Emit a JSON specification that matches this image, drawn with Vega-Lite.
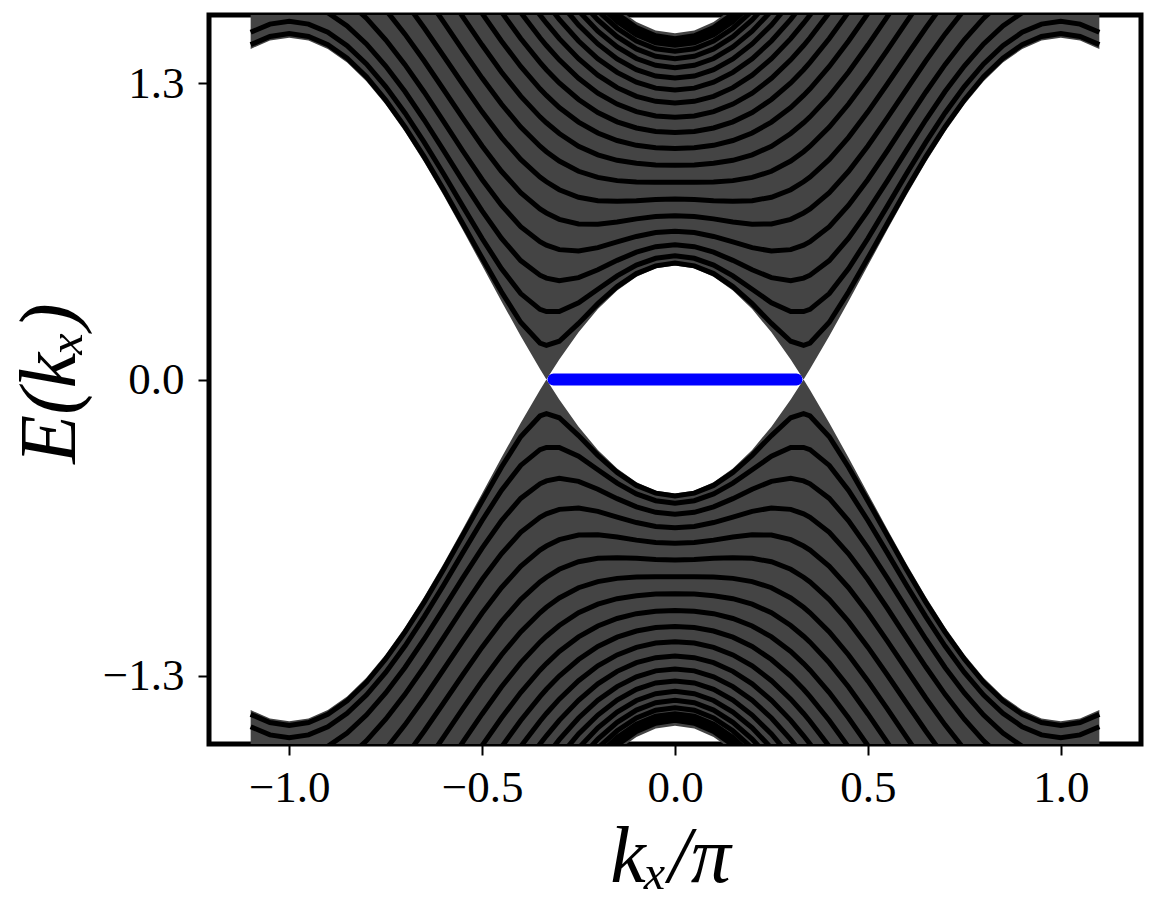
{
  "$schema": "https://vega.github.io/schema/vega-lite/v6.json",
  "width": 932,
  "height": 729,
  "autosize": {"type": "none"},
  "padding": {"left": 209, "top": 15, "right": 22, "bottom": 160},
  "background": "white",
  "config": {
    "view": {"stroke": "black", "strokeWidth": 5},
    "axis": {
      "domain": false, "grid": false, "ticks": true,
      "tickColor": "black", "tickWidth": 2, "tickSize": 11,
      "labelFont": "Liberation Serif", "labelFontSize": 45, "labelColor": "black",
      "titleFont": "Liberation Serif", "titleFontSize": 80, "titleFontStyle": "italic",
      "titleFontWeight": "normal", "titleColor": "black"
    }
  },
  "datasets": {
    "env": [
      {"k":-1.1,"s":"u","lo":1.451,"hi":3.451},{"k":-1.05,"s":"u","lo":1.488,"hi":3.488},{"k":-1.0,"s":"u","lo":1.5,"hi":3.5},{"k":-0.95,"s":"u","lo":1.488,"hi":3.488},{"k":-0.9,"s":"u","lo":1.451,"hi":3.451},{"k":-0.85,"s":"u","lo":1.391,"hi":3.391},{"k":-0.8,"s":"u","lo":1.309,"hi":3.309},{"k":-0.75,"s":"u","lo":1.207,"hi":3.207},{"k":-0.7,"s":"u","lo":1.088,"hi":3.088},{"k":-0.65,"s":"u","lo":0.954,"hi":2.954},{"k":-0.6,"s":"u","lo":0.809,"hi":2.809},{"k":-0.55,"s":"u","lo":0.656,"hi":2.656},{"k":-0.5,"s":"u","lo":0.5,"hi":2.5},{"k":-0.45,"s":"u","lo":0.344,"hi":2.344},{"k":-0.4,"s":"u","lo":0.191,"hi":2.191},{"k":-0.35,"s":"u","lo":0.046,"hi":2.046},{"k":-0.3333,"s":"u","lo":0.0,"hi":2.0},{"k":-0.3,"s":"u","lo":0.088,"hi":1.912},{"k":-0.25,"s":"u","lo":0.207,"hi":1.793},{"k":-0.2,"s":"u","lo":0.309,"hi":1.711},{"k":-0.15,"s":"u","lo":0.391,"hi":1.629},{"k":-0.1,"s":"u","lo":0.451,"hi":1.569},{"k":-0.05,"s":"u","lo":0.488,"hi":1.532},{"k":0.0,"s":"u","lo":0.5,"hi":1.52},{"k":0.05,"s":"u","lo":0.488,"hi":1.532},{"k":0.1,"s":"u","lo":0.451,"hi":1.569},{"k":0.15,"s":"u","lo":0.391,"hi":1.629},{"k":0.2,"s":"u","lo":0.309,"hi":1.711},{"k":0.25,"s":"u","lo":0.207,"hi":1.793},{"k":0.3,"s":"u","lo":0.088,"hi":1.912},{"k":0.3333,"s":"u","lo":0.0,"hi":2.0},{"k":0.35,"s":"u","lo":0.046,"hi":2.046},{"k":0.4,"s":"u","lo":0.191,"hi":2.191},{"k":0.45,"s":"u","lo":0.344,"hi":2.344},{"k":0.5,"s":"u","lo":0.5,"hi":2.5},{"k":0.55,"s":"u","lo":0.656,"hi":2.656},{"k":0.6,"s":"u","lo":0.809,"hi":2.809},{"k":0.65,"s":"u","lo":0.954,"hi":2.954},{"k":0.7,"s":"u","lo":1.088,"hi":3.088},{"k":0.75,"s":"u","lo":1.207,"hi":3.207},{"k":0.8,"s":"u","lo":1.309,"hi":3.309},{"k":0.85,"s":"u","lo":1.391,"hi":3.391},{"k":0.9,"s":"u","lo":1.451,"hi":3.451},{"k":0.95,"s":"u","lo":1.488,"hi":3.488},{"k":1.0,"s":"u","lo":1.5,"hi":3.5},{"k":1.05,"s":"u","lo":1.488,"hi":3.488},{"k":1.1,"s":"u","lo":1.451,"hi":3.451},
      {"k":-1.1,"s":"d","lo":-3.451,"hi":-1.451},{"k":-1.05,"s":"d","lo":-3.488,"hi":-1.488},{"k":-1.0,"s":"d","lo":-3.5,"hi":-1.5},{"k":-0.95,"s":"d","lo":-3.488,"hi":-1.488},{"k":-0.9,"s":"d","lo":-3.451,"hi":-1.451},{"k":-0.85,"s":"d","lo":-3.391,"hi":-1.391},{"k":-0.8,"s":"d","lo":-3.309,"hi":-1.309},{"k":-0.75,"s":"d","lo":-3.207,"hi":-1.207},{"k":-0.7,"s":"d","lo":-3.088,"hi":-1.088},{"k":-0.65,"s":"d","lo":-2.954,"hi":-0.954},{"k":-0.6,"s":"d","lo":-2.809,"hi":-0.809},{"k":-0.55,"s":"d","lo":-2.656,"hi":-0.656},{"k":-0.5,"s":"d","lo":-2.5,"hi":-0.5},{"k":-0.45,"s":"d","lo":-2.344,"hi":-0.344},{"k":-0.4,"s":"d","lo":-2.191,"hi":-0.191},{"k":-0.35,"s":"d","lo":-2.046,"hi":-0.046},{"k":-0.3333,"s":"d","lo":-2.0,"hi":0.0},{"k":-0.3,"s":"d","lo":-1.912,"hi":-0.088},{"k":-0.25,"s":"d","lo":-1.793,"hi":-0.207},{"k":-0.2,"s":"d","lo":-1.711,"hi":-0.309},{"k":-0.15,"s":"d","lo":-1.629,"hi":-0.391},{"k":-0.1,"s":"d","lo":-1.569,"hi":-0.451},{"k":-0.05,"s":"d","lo":-1.532,"hi":-0.488},{"k":0.0,"s":"d","lo":-1.52,"hi":-0.5},{"k":0.05,"s":"d","lo":-1.532,"hi":-0.488},{"k":0.1,"s":"d","lo":-1.569,"hi":-0.451},{"k":0.15,"s":"d","lo":-1.629,"hi":-0.391},{"k":0.2,"s":"d","lo":-1.711,"hi":-0.309},{"k":0.25,"s":"d","lo":-1.793,"hi":-0.207},{"k":0.3,"s":"d","lo":-1.912,"hi":-0.088},{"k":0.3333,"s":"d","lo":-2.0,"hi":0.0},{"k":0.35,"s":"d","lo":-2.046,"hi":-0.046},{"k":0.4,"s":"d","lo":-2.191,"hi":-0.191},{"k":0.45,"s":"d","lo":-2.344,"hi":-0.344},{"k":0.5,"s":"d","lo":-2.5,"hi":-0.5},{"k":0.55,"s":"d","lo":-2.656,"hi":-0.656},{"k":0.6,"s":"d","lo":-2.809,"hi":-0.809},{"k":0.65,"s":"d","lo":-2.954,"hi":-0.954},{"k":0.7,"s":"d","lo":-3.088,"hi":-1.088},{"k":0.75,"s":"d","lo":-3.207,"hi":-1.207},{"k":0.8,"s":"d","lo":-3.309,"hi":-1.309},{"k":0.85,"s":"d","lo":-3.391,"hi":-1.391},{"k":0.9,"s":"d","lo":-3.451,"hi":-1.451},{"k":0.95,"s":"d","lo":-3.488,"hi":-1.488},{"k":1.0,"s":"d","lo":-3.5,"hi":-1.5},{"k":1.05,"s":"d","lo":-3.488,"hi":-1.488},{"k":1.1,"s":"d","lo":-3.451,"hi":-1.451}
    ],
    "bands": [
      {"k":-0.15,"n":1,"u":1.605,"d":-1.605},{"k":-0.1,"n":1,"u":1.545,"d":-1.545},{"k":-0.05,"n":1,"u":1.509,"d":-1.509},{"k":0,"n":1,"u":1.496,"d":-1.496},{"k":0.05,"n":1,"u":1.509,"d":-1.509},{"k":0.1,"n":1,"u":1.545,"d":-1.545},{"k":0.15,"n":1,"u":1.605,"d":-1.605},
      {"k":-0.2,"n":2,"u":1.673,"d":-1.673},{"k":-0.15,"n":2,"u":1.592,"d":-1.592},{"k":-0.1,"n":2,"u":1.533,"d":-1.533},{"k":-0.05,"n":2,"u":1.497,"d":-1.497},{"k":0,"n":2,"u":1.485,"d":-1.485},{"k":0.05,"n":2,"u":1.497,"d":-1.497},{"k":0.1,"n":2,"u":1.533,"d":-1.533},{"k":0.15,"n":2,"u":1.592,"d":-1.592},{"k":0.2,"n":2,"u":1.673,"d":-1.673},
      {"k":-0.2,"n":3,"u":1.65,"d":-1.65},{"k":-0.15,"n":3,"u":1.571,"d":-1.571},{"k":-0.1,"n":3,"u":1.513,"d":-1.513},{"k":-0.05,"n":3,"u":1.478,"d":-1.478},{"k":0,"n":3,"u":1.467,"d":-1.467},{"k":0.05,"n":3,"u":1.478,"d":-1.478},{"k":0.1,"n":3,"u":1.513,"d":-1.513},{"k":0.15,"n":3,"u":1.571,"d":-1.571},{"k":0.2,"n":3,"u":1.65,"d":-1.65},
      {"k":-0.2,"n":4,"u":1.618,"d":-1.618},{"k":-0.15,"n":4,"u":1.542,"d":-1.542},{"k":-0.1,"n":4,"u":1.486,"d":-1.486},{"k":-0.05,"n":4,"u":1.452,"d":-1.452},{"k":0,"n":4,"u":1.441,"d":-1.441},{"k":0.05,"n":4,"u":1.452,"d":-1.452},{"k":0.1,"n":4,"u":1.486,"d":-1.486},{"k":0.15,"n":4,"u":1.542,"d":-1.542},{"k":0.2,"n":4,"u":1.618,"d":-1.618},
      {"k":-0.25,"n":5,"u":1.671,"d":-1.671},{"k":-0.2,"n":5,"u":1.578,"d":-1.578},{"k":-0.15,"n":5,"u":1.505,"d":-1.505},{"k":-0.1,"n":5,"u":1.451,"d":-1.451},{"k":-0.05,"n":5,"u":1.419,"d":-1.419},{"k":0,"n":5,"u":1.408,"d":-1.408},{"k":0.05,"n":5,"u":1.419,"d":-1.419},{"k":0.1,"n":5,"u":1.451,"d":-1.451},{"k":0.15,"n":5,"u":1.505,"d":-1.505},{"k":0.2,"n":5,"u":1.578,"d":-1.578},{"k":0.25,"n":5,"u":1.671,"d":-1.671},
      {"k":-0.25,"n":6,"u":1.618,"d":-1.618},{"k":-0.2,"n":6,"u":1.529,"d":-1.529},{"k":-0.15,"n":6,"u":1.46,"d":-1.46},{"k":-0.1,"n":6,"u":1.409,"d":-1.409},{"k":-0.05,"n":6,"u":1.379,"d":-1.379},{"k":0,"n":6,"u":1.369,"d":-1.369},{"k":0.05,"n":6,"u":1.379,"d":-1.379},{"k":0.1,"n":6,"u":1.409,"d":-1.409},{"k":0.15,"n":6,"u":1.46,"d":-1.46},{"k":0.2,"n":6,"u":1.529,"d":-1.529},{"k":0.25,"n":6,"u":1.618,"d":-1.618},
      {"k":-0.3,"n":7,"u":1.657,"d":-1.657},{"k":-0.25,"n":7,"u":1.556,"d":-1.556},{"k":-0.2,"n":7,"u":1.473,"d":-1.473},{"k":-0.15,"n":7,"u":1.407,"d":-1.407},{"k":-0.1,"n":7,"u":1.36,"d":-1.36},{"k":-0.05,"n":7,"u":1.332,"d":-1.332},{"k":0,"n":7,"u":1.323,"d":-1.323},{"k":0.05,"n":7,"u":1.332,"d":-1.332},{"k":0.1,"n":7,"u":1.36,"d":-1.36},{"k":0.15,"n":7,"u":1.407,"d":-1.407},{"k":0.2,"n":7,"u":1.473,"d":-1.473},{"k":0.25,"n":7,"u":1.556,"d":-1.556},{"k":0.3,"n":7,"u":1.657,"d":-1.657},
      {"k":-0.3333,"n":8,"u":1.653,"d":-1.653},{"k":-0.3,"n":8,"u":1.581,"d":-1.581},{"k":-0.25,"n":8,"u":1.486,"d":-1.486},{"k":-0.2,"n":8,"u":1.408,"d":-1.408},{"k":-0.15,"n":8,"u":1.348,"d":-1.348},{"k":-0.1,"n":8,"u":1.305,"d":-1.305},{"k":-0.05,"n":8,"u":1.279,"d":-1.279},{"k":0,"n":8,"u":1.271,"d":-1.271},{"k":0.05,"n":8,"u":1.279,"d":-1.279},{"k":0.1,"n":8,"u":1.305,"d":-1.305},{"k":0.15,"n":8,"u":1.348,"d":-1.348},{"k":0.2,"n":8,"u":1.408,"d":-1.408},{"k":0.25,"n":8,"u":1.486,"d":-1.486},{"k":0.3,"n":8,"u":1.581,"d":-1.581},{"k":0.3333,"n":8,"u":1.653,"d":-1.653},
      {"k":-0.4,"n":9,"u":1.717,"d":-1.717},{"k":-0.35,"n":9,"u":1.6,"d":-1.6},{"k":-0.3333,"n":9,"u":1.564,"d":-1.564},{"k":-0.3,"n":9,"u":1.496,"d":-1.496},{"k":-0.25,"n":9,"u":1.408,"d":-1.408},{"k":-0.2,"n":9,"u":1.336,"d":-1.336},{"k":-0.15,"n":9,"u":1.281,"d":-1.281},{"k":-0.1,"n":9,"u":1.243,"d":-1.243},{"k":-0.05,"n":9,"u":1.221,"d":-1.221},{"k":0,"n":9,"u":1.214,"d":-1.214},{"k":0.05,"n":9,"u":1.221,"d":-1.221},{"k":0.1,"n":9,"u":1.243,"d":-1.243},{"k":0.15,"n":9,"u":1.281,"d":-1.281},{"k":0.2,"n":9,"u":1.336,"d":-1.336},{"k":0.25,"n":9,"u":1.408,"d":-1.408},{"k":0.3,"n":9,"u":1.496,"d":-1.496},{"k":0.3333,"n":9,"u":1.564,"d":-1.564},{"k":0.35,"n":9,"u":1.6,"d":-1.6},{"k":0.4,"n":9,"u":1.717,"d":-1.717},
      {"k":-0.45,"n":10,"u":1.734,"d":-1.734},{"k":-0.4,"n":10,"u":1.611,"d":-1.611},{"k":-0.35,"n":10,"u":1.5,"d":-1.5},{"k":-0.3333,"n":10,"u":1.466,"d":-1.466},{"k":-0.3,"n":10,"u":1.403,"d":-1.403},{"k":-0.25,"n":10,"u":1.322,"d":-1.322},{"k":-0.2,"n":10,"u":1.257,"d":-1.257},{"k":-0.15,"n":10,"u":1.209,"d":-1.209},{"k":-0.1,"n":10,"u":1.176,"d":-1.176},{"k":-0.05,"n":10,"u":1.157,"d":-1.157},{"k":0,"n":10,"u":1.151,"d":-1.151},{"k":0.05,"n":10,"u":1.157,"d":-1.157},{"k":0.1,"n":10,"u":1.176,"d":-1.176},{"k":0.15,"n":10,"u":1.209,"d":-1.209},{"k":0.2,"n":10,"u":1.257,"d":-1.257},{"k":0.25,"n":10,"u":1.322,"d":-1.322},{"k":0.3,"n":10,"u":1.403,"d":-1.403},{"k":0.3333,"n":10,"u":1.466,"d":-1.466},{"k":0.35,"n":10,"u":1.5,"d":-1.5},{"k":0.4,"n":10,"u":1.611,"d":-1.611},{"k":0.45,"n":10,"u":1.734,"d":-1.734},
      {"k":-0.5,"n":11,"u":1.74,"d":-1.74},{"k":-0.45,"n":11,"u":1.614,"d":-1.614},{"k":-0.4,"n":11,"u":1.497,"d":-1.497},{"k":-0.35,"n":11,"u":1.392,"d":-1.392},{"k":-0.3333,"n":11,"u":1.36,"d":-1.36},{"k":-0.3,"n":11,"u":1.302,"d":-1.302},{"k":-0.25,"n":11,"u":1.229,"d":-1.229},{"k":-0.2,"n":11,"u":1.172,"d":-1.172},{"k":-0.15,"n":11,"u":1.131,"d":-1.131},{"k":-0.1,"n":11,"u":1.104,"d":-1.104},{"k":-0.05,"n":11,"u":1.089,"d":-1.089},{"k":0,"n":11,"u":1.084,"d":-1.084},{"k":0.05,"n":11,"u":1.089,"d":-1.089},{"k":0.1,"n":11,"u":1.104,"d":-1.104},{"k":0.15,"n":11,"u":1.131,"d":-1.131},{"k":0.2,"n":11,"u":1.172,"d":-1.172},{"k":0.25,"n":11,"u":1.229,"d":-1.229},{"k":0.3,"n":11,"u":1.302,"d":-1.302},{"k":0.3333,"n":11,"u":1.36,"d":-1.36},{"k":0.35,"n":11,"u":1.392,"d":-1.392},{"k":0.4,"n":11,"u":1.497,"d":-1.497},{"k":0.45,"n":11,"u":1.614,"d":-1.614},{"k":0.5,"n":11,"u":1.74,"d":-1.74},
      {"k":-0.55,"n":12,"u":1.734,"d":-1.734},{"k":-0.5,"n":12,"u":1.607,"d":-1.607},{"k":-0.45,"n":12,"u":1.486,"d":-1.486},{"k":-0.4,"n":12,"u":1.374,"d":-1.374},{"k":-0.35,"n":12,"u":1.276,"d":-1.276},{"k":-0.3333,"n":12,"u":1.247,"d":-1.247},{"k":-0.3,"n":12,"u":1.194,"d":-1.194},{"k":-0.25,"n":12,"u":1.13,"d":-1.13},{"k":-0.2,"n":12,"u":1.082,"d":-1.082},{"k":-0.15,"n":12,"u":1.049,"d":-1.049},{"k":-0.1,"n":12,"u":1.028,"d":-1.028},{"k":-0.05,"n":12,"u":1.017,"d":-1.017},{"k":0,"n":12,"u":1.014,"d":-1.014},{"k":0.05,"n":12,"u":1.017,"d":-1.017},{"k":0.1,"n":12,"u":1.028,"d":-1.028},{"k":0.15,"n":12,"u":1.049,"d":-1.049},{"k":0.2,"n":12,"u":1.082,"d":-1.082},{"k":0.25,"n":12,"u":1.13,"d":-1.13},{"k":0.3,"n":12,"u":1.194,"d":-1.194},{"k":0.3333,"n":12,"u":1.247,"d":-1.247},{"k":0.35,"n":12,"u":1.276,"d":-1.276},{"k":0.4,"n":12,"u":1.374,"d":-1.374},{"k":0.45,"n":12,"u":1.486,"d":-1.486},{"k":0.5,"n":12,"u":1.607,"d":-1.607},{"k":0.55,"n":12,"u":1.734,"d":-1.734},
      {"k":-0.6,"n":13,"u":1.718,"d":-1.718},{"k":-0.55,"n":13,"u":1.592,"d":-1.592},{"k":-0.5,"n":13,"u":1.468,"d":-1.468},{"k":-0.45,"n":13,"u":1.35,"d":-1.35},{"k":-0.4,"n":13,"u":1.244,"d":-1.244},{"k":-0.35,"n":13,"u":1.153,"d":-1.153},{"k":-0.3333,"n":13,"u":1.127,"d":-1.127},{"k":-0.3,"n":13,"u":1.08,"d":-1.08},{"k":-0.25,"n":13,"u":1.024,"d":-1.024},{"k":-0.2,"n":13,"u":0.986,"d":-0.986},{"k":-0.15,"n":13,"u":0.962,"d":-0.962},{"k":-0.1,"n":13,"u":0.949,"d":-0.949},{"k":-0.05,"n":13,"u":0.942,"d":-0.942},{"k":0,"n":13,"u":0.941,"d":-0.941},{"k":0.05,"n":13,"u":0.942,"d":-0.942},{"k":0.1,"n":13,"u":0.949,"d":-0.949},{"k":0.15,"n":13,"u":0.962,"d":-0.962},{"k":0.2,"n":13,"u":0.986,"d":-0.986},{"k":0.25,"n":13,"u":1.024,"d":-1.024},{"k":0.3,"n":13,"u":1.08,"d":-1.08},{"k":0.3333,"n":13,"u":1.127,"d":-1.127},{"k":0.35,"n":13,"u":1.153,"d":-1.153},{"k":0.4,"n":13,"u":1.244,"d":-1.244},{"k":0.45,"n":13,"u":1.35,"d":-1.35},{"k":0.5,"n":13,"u":1.468,"d":-1.468},{"k":0.55,"n":13,"u":1.592,"d":-1.592},{"k":0.6,"n":13,"u":1.718,"d":-1.718},
      {"k":-0.65,"n":14,"u":1.692,"d":-1.692},{"k":-0.6,"n":14,"u":1.57,"d":-1.57},{"k":-0.55,"n":14,"u":1.445,"d":-1.445},{"k":-0.5,"n":14,"u":1.323,"d":-1.323},{"k":-0.45,"n":14,"u":1.209,"d":-1.209},{"k":-0.4,"n":14,"u":1.108,"d":-1.108},{"k":-0.35,"n":14,"u":1.024,"d":-1.024},{"k":-0.3333,"n":14,"u":1.0,"d":-1.0},{"k":-0.3,"n":14,"u":0.959,"d":-0.959},{"k":-0.25,"n":14,"u":0.914,"d":-0.914},{"k":-0.2,"n":14,"u":0.887,"d":-0.887},{"k":-0.15,"n":14,"u":0.873,"d":-0.873},{"k":-0.1,"n":14,"u":0.867,"d":-0.867},{"k":-0.05,"n":14,"u":0.866,"d":-0.866},{"k":0,"n":14,"u":0.866,"d":-0.866},{"k":0.05,"n":14,"u":0.866,"d":-0.866},{"k":0.1,"n":14,"u":0.867,"d":-0.867},{"k":0.15,"n":14,"u":0.873,"d":-0.873},{"k":0.2,"n":14,"u":0.887,"d":-0.887},{"k":0.25,"n":14,"u":0.914,"d":-0.914},{"k":0.3,"n":14,"u":0.959,"d":-0.959},{"k":0.3333,"n":14,"u":1.0,"d":-1.0},{"k":0.35,"n":14,"u":1.024,"d":-1.024},{"k":0.4,"n":14,"u":1.108,"d":-1.108},{"k":0.45,"n":14,"u":1.209,"d":-1.209},{"k":0.5,"n":14,"u":1.323,"d":-1.323},{"k":0.55,"n":14,"u":1.445,"d":-1.445},{"k":0.6,"n":14,"u":1.57,"d":-1.57},{"k":0.65,"n":14,"u":1.692,"d":-1.692},
      {"k":-0.7,"n":15,"u":1.66,"d":-1.66},{"k":-0.65,"n":15,"u":1.543,"d":-1.543},{"k":-0.6,"n":15,"u":1.42,"d":-1.42},{"k":-0.55,"n":15,"u":1.296,"d":-1.296},{"k":-0.5,"n":15,"u":1.175,"d":-1.175},{"k":-0.45,"n":15,"u":1.063,"d":-1.063},{"k":-0.4,"n":15,"u":0.966,"d":-0.966},{"k":-0.35,"n":15,"u":0.889,"d":-0.889},{"k":-0.3333,"n":15,"u":0.868,"d":-0.868},{"k":-0.3,"n":15,"u":0.833,"d":-0.833},{"k":-0.25,"n":15,"u":0.8,"d":-0.8},{"k":-0.2,"n":15,"u":0.785,"d":-0.785},{"k":-0.15,"n":15,"u":0.782,"d":-0.782},{"k":-0.1,"n":15,"u":0.785,"d":-0.785},{"k":-0.05,"n":15,"u":0.79,"d":-0.79},{"k":0,"n":15,"u":0.792,"d":-0.792},{"k":0.05,"n":15,"u":0.79,"d":-0.79},{"k":0.1,"n":15,"u":0.785,"d":-0.785},{"k":0.15,"n":15,"u":0.782,"d":-0.782},{"k":0.2,"n":15,"u":0.785,"d":-0.785},{"k":0.25,"n":15,"u":0.8,"d":-0.8},{"k":0.3,"n":15,"u":0.833,"d":-0.833},{"k":0.3333,"n":15,"u":0.868,"d":-0.868},{"k":0.35,"n":15,"u":0.889,"d":-0.889},{"k":0.4,"n":15,"u":0.966,"d":-0.966},{"k":0.45,"n":15,"u":1.063,"d":-1.063},{"k":0.5,"n":15,"u":1.175,"d":-1.175},{"k":0.55,"n":15,"u":1.296,"d":-1.296},{"k":0.6,"n":15,"u":1.42,"d":-1.42},{"k":0.65,"n":15,"u":1.543,"d":-1.543},{"k":0.7,"n":15,"u":1.66,"d":-1.66},
      {"k":-0.75,"n":16,"u":1.623,"d":-1.623},{"k":-0.7,"n":16,"u":1.516,"d":-1.516},{"k":-0.65,"n":16,"u":1.398,"d":-1.398},{"k":-0.6,"n":16,"u":1.273,"d":-1.273},{"k":-0.55,"n":16,"u":1.147,"d":-1.147},{"k":-0.5,"n":16,"u":1.025,"d":-1.025},{"k":-0.45,"n":16,"u":0.914,"d":-0.914},{"k":-0.4,"n":16,"u":0.82,"d":-0.82},{"k":-0.35,"n":16,"u":0.749,"d":-0.749},{"k":-0.3333,"n":16,"u":0.731,"d":-0.731},{"k":-0.3,"n":16,"u":0.703,"d":-0.703},{"k":-0.25,"n":16,"u":0.683,"d":-0.683},{"k":-0.2,"n":16,"u":0.682,"d":-0.682},{"k":-0.15,"n":16,"u":0.691,"d":-0.691},{"k":-0.1,"n":16,"u":0.705,"d":-0.705},{"k":-0.05,"n":16,"u":0.715,"d":-0.715},{"k":0,"n":16,"u":0.719,"d":-0.719},{"k":0.05,"n":16,"u":0.715,"d":-0.715},{"k":0.1,"n":16,"u":0.705,"d":-0.705},{"k":0.15,"n":16,"u":0.691,"d":-0.691},{"k":0.2,"n":16,"u":0.682,"d":-0.682},{"k":0.25,"n":16,"u":0.683,"d":-0.683},{"k":0.3,"n":16,"u":0.703,"d":-0.703},{"k":0.3333,"n":16,"u":0.731,"d":-0.731},{"k":0.35,"n":16,"u":0.749,"d":-0.749},{"k":0.4,"n":16,"u":0.82,"d":-0.82},{"k":0.45,"n":16,"u":0.914,"d":-0.914},{"k":0.5,"n":16,"u":1.025,"d":-1.025},{"k":0.55,"n":16,"u":1.147,"d":-1.147},{"k":0.6,"n":16,"u":1.273,"d":-1.273},{"k":0.65,"n":16,"u":1.398,"d":-1.398},{"k":0.7,"n":16,"u":1.516,"d":-1.516},{"k":0.75,"n":16,"u":1.623,"d":-1.623},
      {"k":-0.85,"n":17,"u":1.663,"d":-1.663},{"k":-0.8,"n":17,"u":1.586,"d":-1.586},{"k":-0.75,"n":17,"u":1.491,"d":-1.491},{"k":-0.7,"n":17,"u":1.382,"d":-1.382},{"k":-0.65,"n":17,"u":1.261,"d":-1.261},{"k":-0.6,"n":17,"u":1.133,"d":-1.133},{"k":-0.55,"n":17,"u":1.003,"d":-1.003},{"k":-0.5,"n":17,"u":0.878,"d":-0.878},{"k":-0.45,"n":17,"u":0.765,"d":-0.765},{"k":-0.4,"n":17,"u":0.671,"d":-0.671},{"k":-0.35,"n":17,"u":0.605,"d":-0.605},{"k":-0.3333,"n":17,"u":0.59,"d":-0.59},{"k":-0.3,"n":17,"u":0.57,"d":-0.57},{"k":-0.25,"n":17,"u":0.564,"d":-0.564},{"k":-0.2,"n":17,"u":0.579,"d":-0.579},{"k":-0.15,"n":17,"u":0.604,"d":-0.604},{"k":-0.1,"n":17,"u":0.628,"d":-0.628},{"k":-0.05,"n":17,"u":0.645,"d":-0.645},{"k":0,"n":17,"u":0.651,"d":-0.651},{"k":0.05,"n":17,"u":0.645,"d":-0.645},{"k":0.1,"n":17,"u":0.628,"d":-0.628},{"k":0.15,"n":17,"u":0.604,"d":-0.604},{"k":0.2,"n":17,"u":0.579,"d":-0.579},{"k":0.25,"n":17,"u":0.564,"d":-0.564},{"k":0.3,"n":17,"u":0.57,"d":-0.57},{"k":0.3333,"n":17,"u":0.59,"d":-0.59},{"k":0.35,"n":17,"u":0.605,"d":-0.605},{"k":0.4,"n":17,"u":0.671,"d":-0.671},{"k":0.45,"n":17,"u":0.765,"d":-0.765},{"k":0.5,"n":17,"u":0.878,"d":-0.878},{"k":0.55,"n":17,"u":1.003,"d":-1.003},{"k":0.6,"n":17,"u":1.133,"d":-1.133},{"k":0.65,"n":17,"u":1.261,"d":-1.261},{"k":0.7,"n":17,"u":1.382,"d":-1.382},{"k":0.75,"n":17,"u":1.491,"d":-1.491},{"k":0.8,"n":17,"u":1.586,"d":-1.586},{"k":0.85,"n":17,"u":1.663,"d":-1.663},
      {"k":-1.1,"n":18,"u":1.61,"d":-1.61},{"k":-1.05,"n":18,"u":1.645,"d":-1.645},{"k":-1.0,"n":18,"u":1.657,"d":-1.657},{"k":-0.95,"n":18,"u":1.645,"d":-1.645},{"k":-0.9,"n":18,"u":1.61,"d":-1.61},{"k":-0.85,"n":18,"u":1.552,"d":-1.552},{"k":-0.8,"n":18,"u":1.473,"d":-1.473},{"k":-0.75,"n":18,"u":1.376,"d":-1.376},{"k":-0.7,"n":18,"u":1.264,"d":-1.264},{"k":-0.65,"n":18,"u":1.139,"d":-1.139},{"k":-0.6,"n":18,"u":1.006,"d":-1.006},{"k":-0.55,"n":18,"u":0.871,"d":-0.871},{"k":-0.5,"n":18,"u":0.74,"d":-0.74},{"k":-0.45,"n":18,"u":0.62,"d":-0.62},{"k":-0.4,"n":18,"u":0.522,"d":-0.522},{"k":-0.35,"n":18,"u":0.458,"d":-0.458},{"k":-0.3333,"n":18,"u":0.445,"d":-0.445},{"k":-0.3,"n":18,"u":0.434,"d":-0.434},{"k":-0.25,"n":18,"u":0.447,"d":-0.447},{"k":-0.2,"n":18,"u":0.482,"d":-0.482},{"k":-0.15,"n":18,"u":0.523,"d":-0.523},{"k":-0.1,"n":18,"u":0.559,"d":-0.559},{"k":-0.05,"n":18,"u":0.583,"d":-0.583},{"k":0,"n":18,"u":0.591,"d":-0.591},{"k":0.05,"n":18,"u":0.583,"d":-0.583},{"k":0.1,"n":18,"u":0.559,"d":-0.559},{"k":0.15,"n":18,"u":0.523,"d":-0.523},{"k":0.2,"n":18,"u":0.482,"d":-0.482},{"k":0.25,"n":18,"u":0.447,"d":-0.447},{"k":0.3,"n":18,"u":0.434,"d":-0.434},{"k":0.3333,"n":18,"u":0.445,"d":-0.445},{"k":0.35,"n":18,"u":0.458,"d":-0.458},{"k":0.4,"n":18,"u":0.522,"d":-0.522},{"k":0.45,"n":18,"u":0.62,"d":-0.62},{"k":0.5,"n":18,"u":0.74,"d":-0.74},{"k":0.55,"n":18,"u":0.871,"d":-0.871},{"k":0.6,"n":18,"u":1.006,"d":-1.006},{"k":0.65,"n":18,"u":1.139,"d":-1.139},{"k":0.7,"n":18,"u":1.264,"d":-1.264},{"k":0.75,"n":18,"u":1.376,"d":-1.376},{"k":0.8,"n":18,"u":1.473,"d":-1.473},{"k":0.85,"n":18,"u":1.552,"d":-1.552},{"k":0.9,"n":18,"u":1.61,"d":-1.61},{"k":0.95,"n":18,"u":1.645,"d":-1.645},{"k":1.0,"n":18,"u":1.657,"d":-1.657},{"k":1.05,"n":18,"u":1.645,"d":-1.645},{"k":1.1,"n":18,"u":1.61,"d":-1.61},
      {"k":-1.1,"n":19,"u":1.524,"d":-1.524},{"k":-1.05,"n":19,"u":1.56,"d":-1.56},{"k":-1.0,"n":19,"u":1.572,"d":-1.572},{"k":-0.95,"n":19,"u":1.56,"d":-1.56},{"k":-0.9,"n":19,"u":1.524,"d":-1.524},{"k":-0.85,"n":19,"u":1.465,"d":-1.465},{"k":-0.8,"n":19,"u":1.385,"d":-1.385},{"k":-0.75,"n":19,"u":1.286,"d":-1.286},{"k":-0.7,"n":19,"u":1.17,"d":-1.17},{"k":-0.65,"n":19,"u":1.041,"d":-1.041},{"k":-0.6,"n":19,"u":0.903,"d":-0.903},{"k":-0.55,"n":19,"u":0.76,"d":-0.76},{"k":-0.5,"n":19,"u":0.619,"d":-0.619},{"k":-0.45,"n":19,"u":0.487,"d":-0.487},{"k":-0.4,"n":19,"u":0.377,"d":-0.377},{"k":-0.35,"n":19,"u":0.308,"d":-0.308},{"k":-0.3333,"n":19,"u":0.298,"d":-0.298},{"k":-0.3,"n":19,"u":0.298,"d":-0.298},{"k":-0.25,"n":19,"u":0.337,"d":-0.337},{"k":-0.2,"n":19,"u":0.396,"d":-0.396},{"k":-0.15,"n":19,"u":0.455,"d":-0.455},{"k":-0.1,"n":19,"u":0.502,"d":-0.502},{"k":-0.05,"n":19,"u":0.532,"d":-0.532},{"k":0,"n":19,"u":0.543,"d":-0.543},{"k":0.05,"n":19,"u":0.532,"d":-0.532},{"k":0.1,"n":19,"u":0.502,"d":-0.502},{"k":0.15,"n":19,"u":0.455,"d":-0.455},{"k":0.2,"n":19,"u":0.396,"d":-0.396},{"k":0.25,"n":19,"u":0.337,"d":-0.337},{"k":0.3,"n":19,"u":0.298,"d":-0.298},{"k":0.3333,"n":19,"u":0.298,"d":-0.298},{"k":0.35,"n":19,"u":0.308,"d":-0.308},{"k":0.4,"n":19,"u":0.377,"d":-0.377},{"k":0.45,"n":19,"u":0.487,"d":-0.487},{"k":0.5,"n":19,"u":0.619,"d":-0.619},{"k":0.55,"n":19,"u":0.76,"d":-0.76},{"k":0.6,"n":19,"u":0.903,"d":-0.903},{"k":0.65,"n":19,"u":1.041,"d":-1.041},{"k":0.7,"n":19,"u":1.17,"d":-1.17},{"k":0.75,"n":19,"u":1.286,"d":-1.286},{"k":0.8,"n":19,"u":1.385,"d":-1.385},{"k":0.85,"n":19,"u":1.465,"d":-1.465},{"k":0.9,"n":19,"u":1.524,"d":-1.524},{"k":0.95,"n":19,"u":1.56,"d":-1.56},{"k":1.0,"n":19,"u":1.572,"d":-1.572},{"k":1.05,"n":19,"u":1.56,"d":-1.56},{"k":1.1,"n":19,"u":1.524,"d":-1.524},
      {"k":-1.1,"n":20,"u":1.47,"d":-1.47},{"k":-1.05,"n":20,"u":1.506,"d":-1.506},{"k":-1.0,"n":20,"u":1.519,"d":-1.519},{"k":-0.95,"n":20,"u":1.506,"d":-1.506},{"k":-0.9,"n":20,"u":1.47,"d":-1.47},{"k":-0.85,"n":20,"u":1.41,"d":-1.41},{"k":-0.8,"n":20,"u":1.329,"d":-1.329},{"k":-0.75,"n":20,"u":1.227,"d":-1.227},{"k":-0.7,"n":20,"u":1.109,"d":-1.109},{"k":-0.65,"n":20,"u":0.977,"d":-0.977},{"k":-0.6,"n":20,"u":0.834,"d":-0.834},{"k":-0.55,"n":20,"u":0.684,"d":-0.684},{"k":-0.5,"n":20,"u":0.533,"d":-0.533},{"k":-0.45,"n":20,"u":0.385,"d":-0.385},{"k":-0.4,"n":20,"u":0.251,"d":-0.251},{"k":-0.35,"n":20,"u":0.16,"d":-0.16},{"k":-0.3333,"n":20,"u":0.15,"d":-0.15},{"k":-0.3,"n":20,"u":0.168,"d":-0.168},{"k":-0.25,"n":20,"u":0.246,"d":-0.246},{"k":-0.2,"n":20,"u":0.333,"d":-0.333},{"k":-0.15,"n":20,"u":0.408,"d":-0.408},{"k":-0.1,"n":20,"u":0.465,"d":-0.465},{"k":-0.05,"n":20,"u":0.499,"d":-0.499},{"k":0,"n":20,"u":0.511,"d":-0.511},{"k":0.05,"n":20,"u":0.499,"d":-0.499},{"k":0.1,"n":20,"u":0.465,"d":-0.465},{"k":0.15,"n":20,"u":0.408,"d":-0.408},{"k":0.2,"n":20,"u":0.333,"d":-0.333},{"k":0.25,"n":20,"u":0.246,"d":-0.246},{"k":0.3,"n":20,"u":0.168,"d":-0.168},{"k":0.3333,"n":20,"u":0.15,"d":-0.15},{"k":0.35,"n":20,"u":0.16,"d":-0.16},{"k":0.4,"n":20,"u":0.251,"d":-0.251},{"k":0.45,"n":20,"u":0.385,"d":-0.385},{"k":0.5,"n":20,"u":0.533,"d":-0.533},{"k":0.55,"n":20,"u":0.684,"d":-0.684},{"k":0.6,"n":20,"u":0.834,"d":-0.834},{"k":0.65,"n":20,"u":0.977,"d":-0.977},{"k":0.7,"n":20,"u":1.109,"d":-1.109},{"k":0.75,"n":20,"u":1.227,"d":-1.227},{"k":0.8,"n":20,"u":1.329,"d":-1.329},{"k":0.85,"n":20,"u":1.41,"d":-1.41},{"k":0.9,"n":20,"u":1.47,"d":-1.47},{"k":0.95,"n":20,"u":1.506,"d":-1.506},{"k":1.0,"n":20,"u":1.519,"d":-1.519},{"k":1.05,"n":20,"u":1.506,"d":-1.506},{"k":1.1,"n":20,"u":1.47,"d":-1.47}
    ],
    "edge": [
      {"k":-0.315,"e":0},{"k":-0.3,"e":0},{"k":-0.2,"e":0},{"k":-0.1,"e":0},{"k":0.0,"e":0},{"k":0.1,"e":0},{"k":0.2,"e":0},{"k":0.3,"e":0},{"k":0.315,"e":0}
    ]
  },
  "layer": [
    {
      "data": {"name": "env"},
      "mark": {"type": "area", "clip": true, "color": "#444444", "opacity": 1},
      "encoding": {
        "x": {"field": "k", "type": "quantitative",
          "scale": {"domain": [-1.208, 1.208], "nice": false, "zero": false},
          "axis": {"values": [-1, -0.5, 0, 0.5, 1], "format": ".1f", "title": "kₓ/π", "labelPadding": 10, "titleBaseline": "alphabetic", "titleX": 461, "titleY": 137}},
        "y": {"field": "lo", "type": "quantitative",
          "scale": {"domain": [-1.6, 1.6], "nice": false, "zero": false},
          "axis": {"values": [-1.3, 0, 1.3], "format": ".1f", "title": "E(kₓ)", "labelPadding": 14, "titleBaseline": "alphabetic", "titleAngle": -90, "titleX": -135, "titleY": 368}},
        "y2": {"field": "hi"},
        "detail": {"field": "s"}
      }
    },
    {
      "data": {"name": "bands"},
      "transform": [{"fold": ["u", "d"], "as": ["sign", "e"]}],
      "mark": {"type": "line", "clip": true, "color": "black", "strokeWidth": 5, "opacity": 1},
      "encoding": {
        "x": {"field": "k", "type": "quantitative"},
        "y": {"field": "e", "type": "quantitative"},
        "detail": [{"field": "n"}, {"field": "sign"}]
      }
    },
    {
      "data": {"name": "edge"},
      "mark": {"type": "line", "color": "#0000ff", "strokeWidth": 12, "strokeCap": "round"},
      "encoding": {
        "x": {"field": "k", "type": "quantitative"},
        "y": {"field": "e", "type": "quantitative"}
      }
    }
  ]
}
